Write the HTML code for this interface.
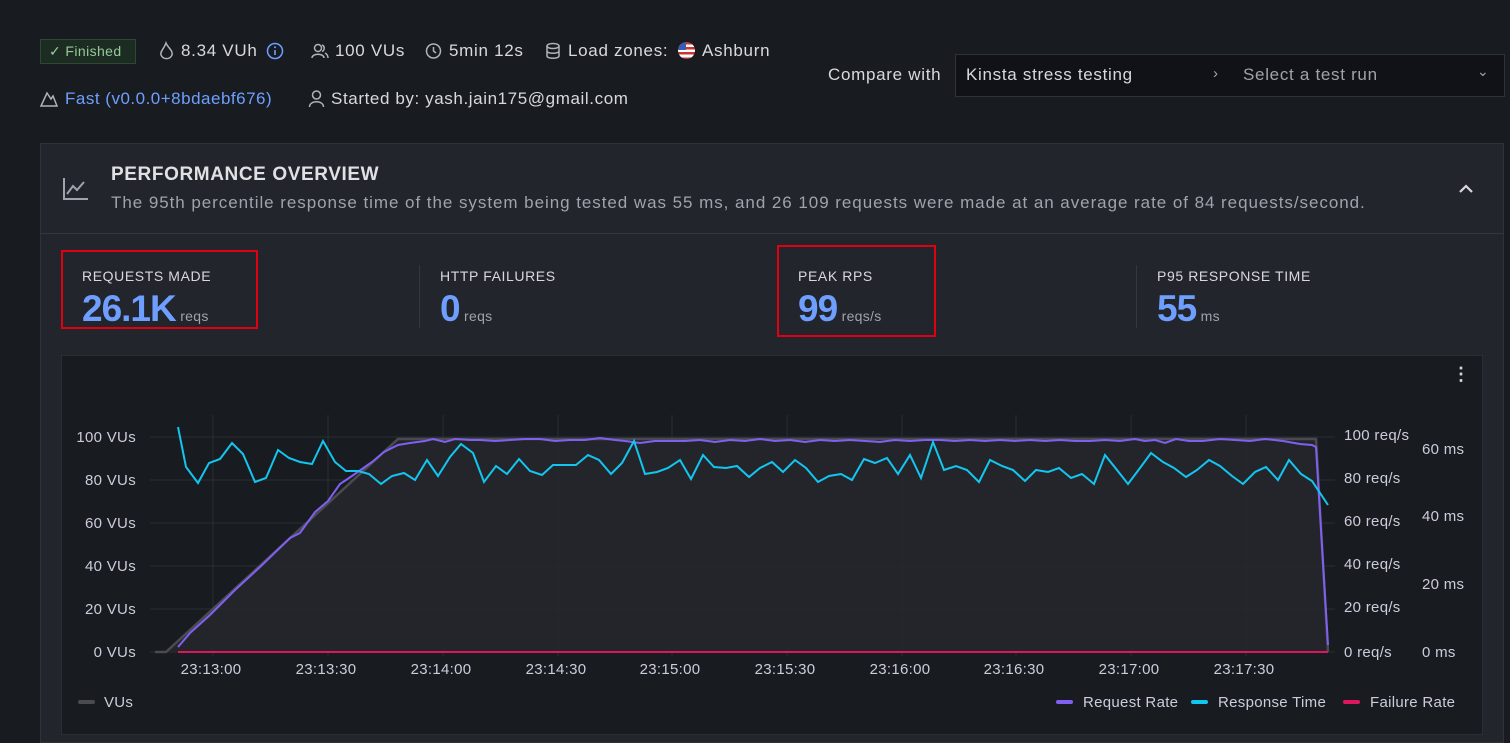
<!DOCTYPE html>
<html><head><meta charset="utf-8"><style>
*{box-sizing:border-box;margin:0;padding:0}
body{width:1510px;height:731px;overflow:hidden;background:#181b1f;font-family:"Liberation Sans",sans-serif;color:#ccccdc;position:relative}
.a{position:absolute;white-space:nowrap}
.t{font-size:17px;color:#d8d9de;letter-spacing:0.7px}
.card{position:absolute;left:40px;top:143px;width:1464px;height:600px;background:#22252b;border:1px solid #2f3238}
.lbl{font-size:14px;color:#d8d9de;letter-spacing:0.6px}
.big{font-size:37px;font-weight:bold;color:#6e9fff;letter-spacing:-1px}
.u{font-size:14px;color:#a0a3ab;letter-spacing:0.3px}
.red{position:absolute;border:2px solid #e0000f}
.ax{font-size:15px;fill:#ccccdc;font-family:"Liberation Sans",sans-serif;letter-spacing:0.3px}
.ic{position:absolute;stroke:#b0b3ba;fill:none;stroke-width:1.5}
</style></head><body>
<div class="a" style="left:40px;top:39px;width:96px;height:25px;border:1px solid #2d4a30;background:#1d2c22;color:#96c99a;font-size:14px;line-height:23px;padding-left:8px;letter-spacing:0.4px">✓ Finished</div>
<svg class="ic" style="left:158px;top:41px" width="17" height="20"><path d="M8 2C10 7 15 9 14 14A6 6 0 0 1 3 14C2 10 6 8 8 2Z"/></svg>
<div class="a t" style="left:181px;top:41px">8.34 VUh</div>
<svg class="a" style="left:266px;top:42px" width="18" height="18"><circle cx="9" cy="9" r="7.5" fill="none" stroke="#6e9fff" stroke-width="1.5"/><line x1="9" y1="8" x2="9" y2="13" stroke="#6e9fff" stroke-width="1.6"/><circle cx="9" cy="5.3" r="1" fill="#6e9fff"/></svg>
<svg class="ic" style="left:311px;top:42px" width="18" height="18"><circle cx="7" cy="6" r="3.5"/><path d="M1 16C1 11 13 11 13 16M11 3A3.5 3.5 0 0 1 11 9.5M14 11C16 12 17 14 17 16"/></svg>
<div class="a t" style="left:335px;top:41px">100 VUs</div>
<svg class="ic" style="left:425px;top:42px" width="18" height="18"><circle cx="8.5" cy="9" r="7"/><path d="M8.5 5V9L11 11"/></svg>
<div class="a t" style="left:449px;top:41px">5min 12s</div>
<svg class="ic" style="left:545px;top:42px" width="16" height="18"><ellipse cx="8" cy="4" rx="6" ry="2.5"/><path d="M2 4V14C2 17 14 17 14 14V4M2 9C2 12 14 12 14 9"/></svg>
<div class="a t" style="left:568px;top:41px">Load zones:</div>
<div class="a" style="left:678px;top:42px;width:17px;height:17px;border-radius:50%;background:linear-gradient(#c33 0 15%,#fff 15% 30%,#c33 30% 45%,#fff 45% 60%,#c33 60% 75%,#fff 75% 90%,#c33 90%);overflow:hidden"><div style="width:8px;height:8px;background:#3b5bb0"></div></div>
<div class="a t" style="left:702px;top:41px">Ashburn</div>
<svg class="ic" style="left:40px;top:89px" width="18" height="19"><path d="M1 17L7 4L11 10L13 7L17 17Z"/></svg>
<div class="a t" style="left:65px;top:89px;color:#6e9fff;letter-spacing:0.5px">Fast (v0.0.0+8bdaebf676)</div>
<svg class="ic" style="left:308px;top:89px" width="17" height="19"><circle cx="8.5" cy="6" r="4"/><path d="M1.5 18C1.5 11 15.5 11 15.5 18"/></svg>
<div class="a t" style="left:331px;top:89px;letter-spacing:0.6px">Started by: yash.jain175@gmail.com</div>
<div class="a t" style="left:828px;top:65px">Compare with</div>
<div class="a" style="left:955px;top:54px;width:550px;height:43px;background:#111217;border:1px solid #2f3238"></div>
<div class="a t" style="left:966px;top:65px">Kinsta stress testing</div>
<div class="a" style="left:1213px;top:65px;color:#a0a3ab;font-size:15px">›</div>
<div class="a t" style="left:1243px;top:65px;color:#a0a3ab">Select a test run</div>
<div class="a" style="left:1477px;top:63px;color:#a0a3ab;font-size:14px">⌄</div>
<div class="card"></div>
<div class="a" style="left:41px;top:233px;width:1462px;height:1px;background:#34373d"></div>
<svg class="a" style="left:62px;top:176px" width="28" height="26"><path d="M2 2V23H26M5 18L11 10L15 14L22 6" fill="none" stroke="#a0a3ab" stroke-width="2"/></svg>
<div class="a" style="left:111px;top:164px;font-size:19px;font-weight:bold;color:#e0e1e5;letter-spacing:0.6px">PERFORMANCE OVERVIEW</div>
<div class="a" style="left:111px;top:193px;font-size:17px;color:#a0a3ab;letter-spacing:0.95px">The 95th percentile response time of the system being tested was 55 ms, and 26 109 requests were made at an average rate of 84 requests/second.</div>
<svg class="a" style="left:1458px;top:183px" width="16" height="12"><path d="M2 9L8 3L14 9" fill="none" stroke="#d8d9de" stroke-width="2.2"/></svg>
<div class="a lbl" style="left:82px;top:268px">REQUESTS MADE</div>
<div class="a" style="left:82px;top:288px"><span class="big">26.1K</span> <span class="u">reqs</span></div>
<div class="a" style="left:419px;top:265px;width:1px;height:63px;background:#34373d"></div>
<div class="a lbl" style="left:440px;top:268px">HTTP FAILURES</div>
<div class="a" style="left:440px;top:288px"><span class="big">0</span> <span class="u">reqs</span></div>
<div class="a lbl" style="left:798px;top:268px">PEAK RPS</div>
<div class="a" style="left:798px;top:288px"><span class="big">99</span> <span class="u">reqs/s</span></div>
<div class="a" style="left:1136px;top:265px;width:1px;height:63px;background:#34373d"></div>
<div class="a lbl" style="left:1157px;top:268px">P95 RESPONSE TIME</div>
<div class="a" style="left:1157px;top:288px"><span class="big">55</span> <span class="u">ms</span></div>
<div class="red" style="left:61px;top:250px;width:197px;height:79px"></div>
<div class="red" style="left:777px;top:245px;width:159px;height:92px"></div>
<div class="a" style="left:61px;top:355px;width:1422px;height:380px;background:#181b1f;border:1px solid #2a2d33"></div>
<div class="a" style="left:1452px;top:364px;color:#d8d9de;font-size:18px;font-weight:bold">⋮</div>
<svg class="a" style="left:0;top:0" width="1510" height="731">
<g stroke="#2a2d33" stroke-width="1">
<line x1="150" y1="437" x2="1335" y2="437"/><line x1="150" y1="480" x2="1335" y2="480"/><line x1="150" y1="523" x2="1335" y2="523"/><line x1="150" y1="566" x2="1335" y2="566"/><line x1="150" y1="609" x2="1335" y2="609"/><line x1="150" y1="652" x2="1335" y2="652"/>
<line x1="213" y1="415" x2="213" y2="656"/><line x1="328" y1="415" x2="328" y2="656"/><line x1="443" y1="415" x2="443" y2="656"/><line x1="558" y1="415" x2="558" y2="656"/><line x1="672" y1="415" x2="672" y2="656"/><line x1="787" y1="415" x2="787" y2="656"/><line x1="902" y1="415" x2="902" y2="656"/><line x1="1016" y1="415" x2="1016" y2="656"/><line x1="1131" y1="415" x2="1131" y2="656"/><line x1="1246" y1="415" x2="1246" y2="656"/>
</g>
<polygon points="166,652 398,439 1316,439 1328,652" fill="#26272c" fill-opacity="0.9"/>
<polyline points="155,652 166,652 398,439 1316,439 1328,652" fill="none" stroke="#4a4b50" stroke-width="2.5"/>
<polyline points="178,647 190,633 210,615 235,590 260,567 290,538 300,533 315,512 328,501 340,484 352,476 372,462 384,452 398,445 410,443 425,441 433,439 445,442 455,439 470,440 480,440 495,441 510,440 525,439 540,439 555,441 570,440 585,440 600,438 615,440 625,441 640,443 655,441 670,441 685,441 700,440 715,442 730,440 745,441 760,439 775,441 790,440 805,442 820,440 835,441 850,440 865,441 880,442 895,440 910,441 925,440 940,440 955,441 970,440 985,441 1000,440 1015,441 1030,440 1045,441 1060,440 1075,441 1090,441 1105,440 1120,441 1135,439 1145,441 1155,440 1165,443 1176,439 1189,441 1203,441 1220,439 1235,440 1250,441 1265,439 1283,441 1300,444 1312,445 1316,447 1328,645" fill="none" stroke="#8060f0" stroke-width="2"/>
<polyline points="178,427 186,467 198,483 209,463 220,459 232,443 243,454 255,482 266,478 278,450 289,458 300,462 312,464 323,441 335,462 346,471 358,471 369,474 381,484 392,476 404,473 415,480 427,460 438,476 450,457 461,444 473,453 484,482 496,466 507,474 519,459 530,471 542,475 553,465 565,465 576,465 588,455 599,460 611,474 622,463 634,441 645,474 657,472 668,468 680,460 691,479 703,455 714,467 726,468 737,466 749,477 760,468 772,462 783,472 795,460 806,468 818,482 829,476 841,474 852,480 864,459 875,463 887,458 898,474 910,455 921,478 933,442 944,470 956,466 967,470 979,482 990,460 1002,466 1013,470 1025,481 1036,470 1048,472 1059,468 1071,478 1082,474 1094,484 1105,455 1117,470 1128,484 1140,468 1151,453 1163,462 1174,468 1186,477 1197,470 1209,460 1220,466 1232,476 1243,484 1255,472 1266,467 1278,480 1289,460 1301,474 1312,481 1328,505" fill="none" stroke="#12c6f0" stroke-width="2"/>
<line x1="178" y1="652" x2="1328" y2="652" stroke="#e01560" stroke-width="2"/>
<g class="ax" text-anchor="end">
<text x="136" y="442">100 VUs</text><text x="136" y="485">80 VUs</text><text x="136" y="528">60 VUs</text><text x="136" y="571">40 VUs</text><text x="136" y="614">20 VUs</text><text x="136" y="657">0 VUs</text>
</g>
<g class="ax">
<text x="1344" y="440">100 req/s</text><text x="1344" y="483">80 req/s</text><text x="1344" y="526">60 req/s</text><text x="1344" y="569">40 req/s</text><text x="1344" y="612">20 req/s</text><text x="1344" y="657">0 req/s</text>
<text x="1422" y="454">60 ms</text><text x="1422" y="521">40 ms</text><text x="1422" y="589">20 ms</text><text x="1422" y="657">0 ms</text>
</g>
<g class="ax" text-anchor="middle">
<text x="211" y="674">23:13:00</text><text x="326" y="674">23:13:30</text><text x="441" y="674">23:14:00</text><text x="556" y="674">23:14:30</text><text x="670" y="674">23:15:00</text><text x="785" y="674">23:15:30</text><text x="900" y="674">23:16:00</text><text x="1014" y="674">23:16:30</text><text x="1129" y="674">23:17:00</text><text x="1244" y="674">23:17:30</text>
</g>
<g stroke-width="4" stroke-linecap="round">
<line x1="80" y1="702" x2="93" y2="702" stroke="#4a4b50"/>
<line x1="1058" y1="702" x2="1071" y2="702" stroke="#8060f0"/>
<line x1="1193" y1="702" x2="1206" y2="702" stroke="#12c6f0"/>
<line x1="1345" y1="702" x2="1358" y2="702" stroke="#e01560"/>
</g>
<g class="ax"><text x="104" y="707">VUs</text><text x="1083" y="707">Request Rate</text><text x="1218" y="707">Response Time</text><text x="1370" y="707">Failure Rate</text></g>
</svg>
</body></html>
